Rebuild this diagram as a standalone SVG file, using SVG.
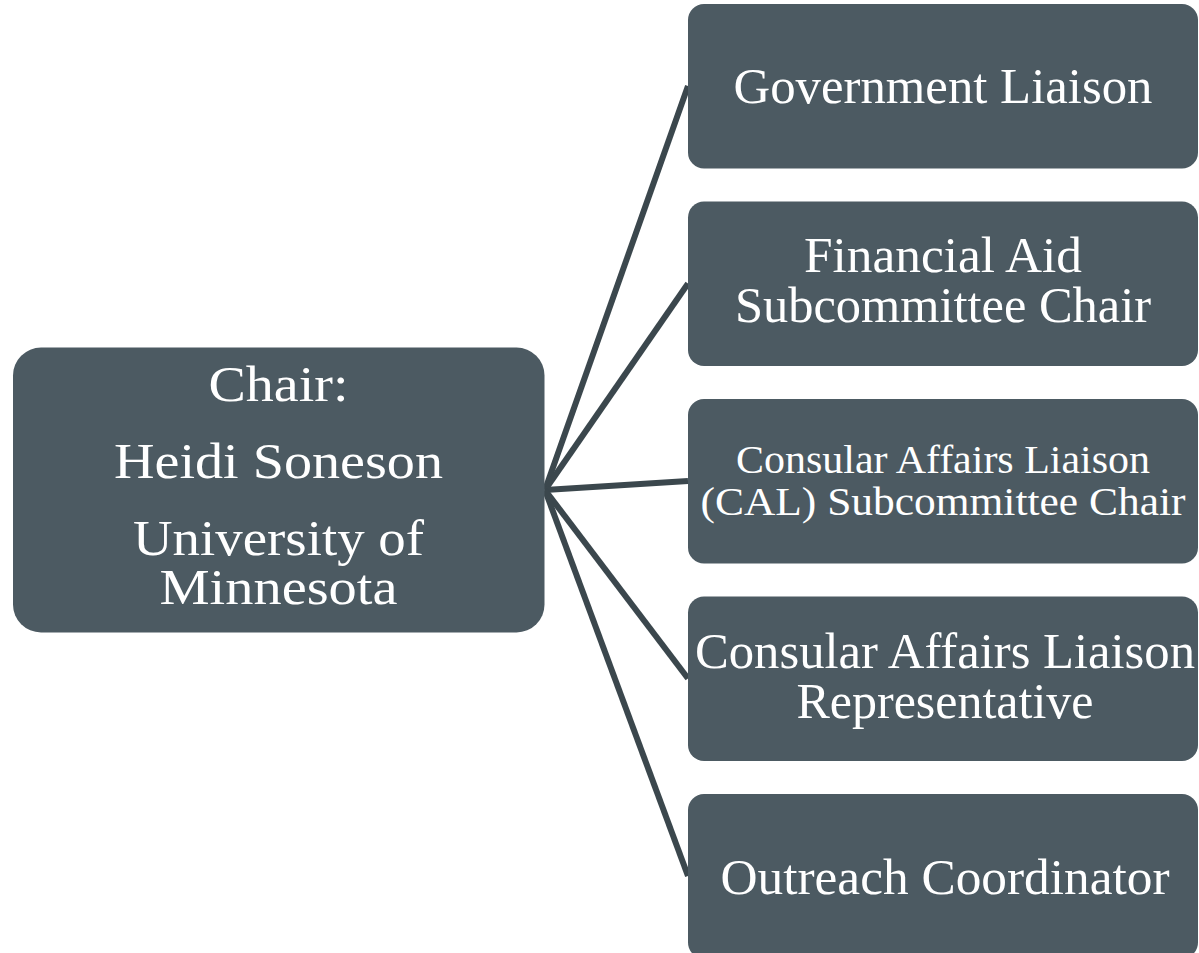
<svg xmlns="http://www.w3.org/2000/svg" width="1199" height="953" viewBox="0 0 1199 953">
<style>
.box{fill:#4c5a62;}
.t{fill:#ffffff;font-family:"Liberation Serif","Times New Roman",serif;text-anchor:middle;}
.big{font-size:50px;}
.mid{font-size:41px;}
.conn{stroke:#3b474d;stroke-width:6;stroke-linecap:butt;fill:none;}
</style>
<rect width="1199" height="953" fill="#ffffff"/>
<g id="connectors">
<line class="conn" x1="545" y1="490" x2="688" y2="86"/>
<line class="conn" x1="545" y1="490" x2="688" y2="283.5"/>
<line class="conn" x1="545" y1="490" x2="688" y2="481"/>
<line class="conn" x1="545" y1="490" x2="688" y2="678.5"/>
<line class="conn" x1="545" y1="490" x2="688" y2="876"/>
</g>
<g id="chair">
<rect class="box" x="13" y="347.5" width="531.5" height="285" rx="28" ry="28"/>
<text class="t big" x="278.5" y="400.5" textLength="140" lengthAdjust="spacingAndGlyphs">Chair:</text>
<text class="t big" x="278.5" y="477.5" textLength="329" lengthAdjust="spacingAndGlyphs">Heidi Soneson</text>
<text class="t big" x="278.5" y="554.5" textLength="291" lengthAdjust="spacingAndGlyphs">University of</text>
<text class="t big" x="278.5" y="603.5" textLength="238" lengthAdjust="spacingAndGlyphs">Minnesota</text>
</g>
<g id="government-liaison">
<rect class="box" x="688" y="4" width="510" height="164.5" rx="16" ry="16"/>
<text class="t big" x="943" y="103" textLength="419" lengthAdjust="spacingAndGlyphs">Government Liaison</text>
</g>
<g id="financial-aid">
<rect class="box" x="688" y="201.5" width="510" height="164.5" rx="16" ry="16"/>
<text class="t big" x="943" y="272" textLength="278" lengthAdjust="spacingAndGlyphs">Financial Aid</text>
<text class="t big" x="943" y="322" textLength="416" lengthAdjust="spacingAndGlyphs">Subcommittee Chair</text>
</g>
<g id="cal-chair">
<rect class="box" x="688" y="399" width="510" height="164.5" rx="16" ry="16"/>
<text class="t mid" x="943" y="473" textLength="414" lengthAdjust="spacingAndGlyphs">Consular Affairs Liaison</text>
<text class="t mid" x="943" y="515" textLength="485" lengthAdjust="spacingAndGlyphs">(CAL) Subcommittee Chair</text>
</g>
<g id="cal-representative">
<rect class="box" x="688" y="596.5" width="510" height="164.5" rx="16" ry="16"/>
<text class="t big" x="945" y="668" textLength="500" lengthAdjust="spacingAndGlyphs">Consular Affairs Liaison</text>
<text class="t big" x="945" y="718" textLength="297" lengthAdjust="spacingAndGlyphs">Representative</text>
</g>
<g id="outreach-coordinator">
<rect class="box" x="688" y="794" width="510" height="164.5" rx="16" ry="16"/>
<text class="t big" x="945" y="894" textLength="449" lengthAdjust="spacingAndGlyphs">Outreach Coordinator</text>
</g>
</svg>
